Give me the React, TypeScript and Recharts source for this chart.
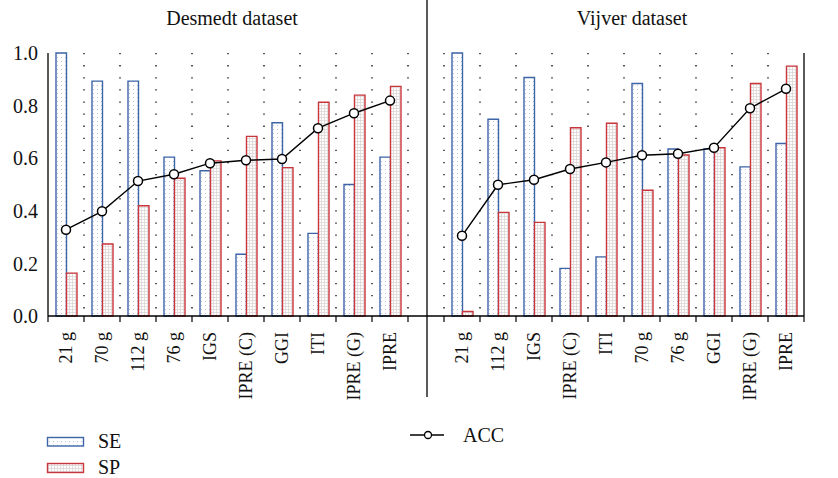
import React from 'react';
import { ComposedChart, Bar, Line, XAxis, YAxis, CartesianGrid } from 'recharts';

const W = 838;
const H = 478;
const PLOT_LEFT = 48;
const PLOT_RIGHT = 804;
const PLOT_TOP = 53;
const PLOT_BOTTOM = 316;
const SLOTS = 21;
const STEP = (PLOT_RIGHT - PLOT_LEFT) / SLOTS;
const FONT = '"Liberation Serif", "DejaVu Serif", serif';

const BLUE = '#3d64a6';
const RED = '#c8353b';

// Desmedt dataset
const desmedtCategories = ['21 g', '70 g', '112 g', '76 g', 'IGS', 'IPRE (C)', 'GGI', 'ITI', 'IPRE (G)', 'IPRE'];
const desmedtSE = [1.0, 0.893, 0.893, 0.604, 0.552, 0.235, 0.735, 0.314, 0.5, 0.604];
const desmedtSP = [0.163, 0.274, 0.419, 0.524, 0.59, 0.683, 0.564, 0.813, 0.84, 0.873];
const desmedtACC = [0.328, 0.398, 0.513, 0.539, 0.581, 0.592, 0.597, 0.714, 0.771, 0.819];

// Vijver dataset
const vijverCategories = ['21 g', '112 g', 'IGS', 'IPRE (C)', 'ITI', '70 g', '76 g', 'GGI', 'IPRE (G)', 'IPRE'];
const vijverSE = [1.0, 0.748, 0.907, 0.181, 0.225, 0.884, 0.635, 0.635, 0.567, 0.656];
const vijverSP = [0.017, 0.394, 0.356, 0.716, 0.733, 0.478, 0.612, 0.64, 0.884, 0.95];
const vijverACC = [0.305, 0.499, 0.518, 0.559, 0.584, 0.611, 0.617, 0.64, 0.79, 0.864];

const yTicks = [0, 0.2, 0.4, 0.6, 0.8, 1.0];

// one empty slot between the two datasets
const data = [
  ...desmedtCategories.map((name, i) => ({ name, se: desmedtSE[i], sp: desmedtSP[i], acc: desmedtACC[i] })),
  { name: '', se: null, sp: null, acc: null },
  ...vijverCategories.map((name, i) => ({ name, se: vijverSE[i], sp: vijverSP[i], acc: vijverACC[i] })),
];

const XTick = (props: any) => {
  const { x, payload, index } = props;
  const left = x - STEP / 2;
  return (
    <g>
      <line x1={left} x2={left} y1={PLOT_BOTTOM} y2={PLOT_BOTTOM + 6} stroke="#000" strokeWidth={1.2} />
      {index === SLOTS - 1 && (
        <line x1={x + STEP / 2} x2={x + STEP / 2} y1={PLOT_BOTTOM} y2={PLOT_BOTTOM + 6} stroke="#000" strokeWidth={1.2} />
      )}
      <text
        transform={`translate(${x},${PLOT_BOTTOM + 16}) rotate(-90)`}
        textAnchor="end"
        dy="0.34em"
        fontSize={18}
        fontFamily={FONT}
        fill="#111"
      >
        {payload.value}
      </text>
    </g>
  );
};

const gridLines = ({ offset }: any) => {
  const out: number[] = [];
  for (let i = 1; i < SLOTS; i++) out.push(offset.left + (offset.width / SLOTS) * i);
  return out;
};

export default function App() {
  return (
    <div style={{ position: 'relative', width: W, height: H, background: '#fff' }}>
      <style>{`body{margin:0}`}</style>
      <svg width={0} height={0} style={{ position: 'absolute' }}>
        <defs>
          <pattern id="sePat" width="4" height="4" patternUnits="userSpaceOnUse">
            <rect width="4" height="4" fill="#fff" />
            <rect x="1" y="1" width="1" height="1" fill="#b9c6e0" />
          </pattern>
          <pattern id="spPat" width="3" height="3" patternUnits="userSpaceOnUse">
            <rect width="3" height="3" fill="#fff" />
            <path d="M0 0.5H3M0.5 0V3" stroke="#ddd4d6" strokeWidth="0.8" />
          </pattern>
        </defs>
      </svg>
      <ComposedChart
        width={W}
        height={H}
        data={data}
        margin={{ top: PLOT_TOP, right: 0, bottom: 0, left: 0 }}
        barGap={0}
      >
        <CartesianGrid
          horizontal={false}
          verticalCoordinatesGenerator={gridLines}
          stroke="#000"
          strokeWidth={1.3}
          strokeDasharray="1.3 10.8"
        />
        <XAxis
          dataKey="name"
          interval={0}
          height={H - PLOT_BOTTOM}
          tickLine={false}
          axisLine={{ stroke: '#000', strokeWidth: 1.3 }}
          tick={<XTick />}
        />
        <YAxis
          yAxisId="left"
          width={PLOT_LEFT}
          domain={[0, 1]}
          ticks={yTicks}
          tickFormatter={(v: number) => v.toFixed(1)}
          tickLine={false}
          tickSize={8}
          tickMargin={2}
          axisLine={{ stroke: '#000', strokeWidth: 1.3 }}
          tick={{ fill: '#111', fontSize: 20, fontFamily: FONT }}
        />
        <YAxis
          yAxisId="right"
          orientation="right"
          width={W - PLOT_RIGHT}
          domain={[0, 1]}
          ticks={yTicks}
          tickFormatter={(v: number) => v.toFixed(1)}
          tickLine={false}
          tickSize={7}
          tickMargin={2}
          axisLine={{ stroke: '#000', strokeWidth: 1.3 }}
          tick={{ fill: '#111', fontSize: 20, fontFamily: FONT }}
        />
        <Bar yAxisId="left" dataKey="se" barSize={10.5} fill="url(#sePat)" stroke={BLUE} strokeWidth={1.4} isAnimationActive={false} />
        <Bar yAxisId="left" dataKey="sp" barSize={10.5} fill="url(#spPat)" stroke={RED} strokeWidth={1.4} isAnimationActive={false} />
        <Line
          yAxisId="left"
          dataKey="acc"
          stroke="#000"
          strokeWidth={1.4}
          dot={{ r: 4.5, fill: '#fff', stroke: '#000', strokeWidth: 1.5 }}
          connectNulls={false}
          isAnimationActive={false}
        />
      </ComposedChart>
      <svg width={W} height={H} style={{ position: 'absolute', left: 0, top: 0, pointerEvents: 'none' }}>
        <g fontFamily={FONT} fill="#111" fontSize={20}>
          <text x={232} y={25} textAnchor="middle">Desmedt dataset</text>
          <text x={632} y={25} textAnchor="middle">Vijver dataset</text>
          <line x1={427} x2={427} y1={0} y2={397} stroke="#000" strokeWidth={1.3} />
          <rect x={47.5} y={437.5} width={36} height={8.5} fill="url(#sePat)" stroke={BLUE} strokeWidth={1.4} />
          <text x={98} y={448}>SE</text>
          <rect x={47.5} y={463.5} width={36} height={9} fill="url(#spPat)" stroke={RED} strokeWidth={1.4} />
          <text x={98} y={474}>SP</text>
          <line x1={410} x2={444} y1={435} y2={435} stroke="#000" strokeWidth={1.4} />
          <circle cx={428} cy={435} r={3.5} fill="#fff" stroke="#000" strokeWidth={1.3} />
          <text x={463} y={442}>ACC</text>
        </g>
      </svg>
    </div>
  );
}
